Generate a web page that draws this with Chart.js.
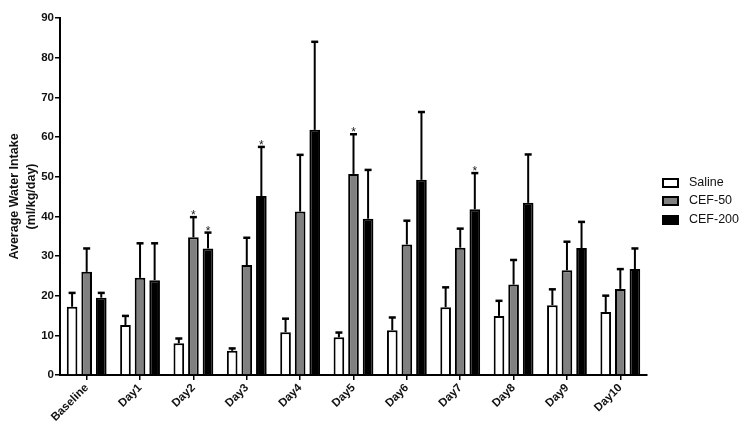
<!DOCTYPE html>
<html>
<head>
<meta charset="utf-8">
<script src="https://cdn.jsdelivr.net/npm/chart.js@4/dist/chart.umd.min.js"></script>
<style>
  html, body { margin: 0; padding: 0; background: #fff; }
  #wrap { width: 751px; height: 434px; position: relative; }
</style>
</head>
<body>
<div id="wrap"><canvas id="chart"></canvas></div>
<script>
(() => {
    'use strict';

    const categories = ['Baseline', 'Day1', 'Day2', 'Day3', 'Day4', 'Day5', 'Day6', 'Day7', 'Day8', 'Day9', 'Day10'];
    const seriesNames = ['Saline', 'CEF-50', 'CEF-200'];

    const salineMean = [17.2, 12.6, 8.0, 6.1, 10.8, 9.5, 11.3, 17.1, 14.9, 17.6, 15.9];
    const salineErr = [3.5, 2.3, 1.2, 0.6, 3.4, 1.2, 3.2, 5.0, 3.8, 4.0, 4.1];
    const cef50Mean = [26.0, 24.5, 34.7, 27.7, 41.2, 50.7, 32.9, 32.1, 22.8, 26.4, 21.7];
    const cef50Err = [5.9, 8.7, 5.1, 6.9, 14.3, 10.0, 6.0, 4.8, 6.2, 7.2, 5.0];
    const cef200Mean = [19.5, 23.9, 31.9, 45.1, 61.8, 39.4, 49.2, 41.8, 43.4, 32.0, 26.7];
    const cef200Err = [1.2, 9.3, 4.0, 12.4, 22.2, 12.3, 17.1, 9.1, 12.2, 6.6, 5.2];

    // significance marks (*) per series, per category
    const salineStar = [0, 0, 0, 0, 0, 0, 0, 0, 0, 0, 0];
    const cef50Star = [0, 0, 1, 0, 0, 1, 0, 0, 0, 0, 0];
    const cef200Star = [0, 0, 1, 1, 0, 0, 0, 1, 0, 0, 0];

    const fills = ['#ffffff', '#808080', '#000000'];
    const means = [salineMean, cef50Mean, cef200Mean];
    const errs = [salineErr, cef50Err, cef200Err];
    const stars = [salineStar, cef50Star, cef200Star];
    const font = '"Liberation Sans", Arial, sans-serif';

    const errorBars = {
        id: 'errorBars',
        afterDatasetsDraw(chart) {
            const { ctx } = chart;
            const y = chart.scales.y;
            ctx.save();
            ctx.strokeStyle = '#000';
            ctx.fillStyle = '#222';
            chart.data.datasets.forEach((ds, i) => {
                chart.getDatasetMeta(i).data.forEach((bar, j) => {
                    const top = y.getPixelForValue(ds.data[j] + errs[i][j]);
                    const base = y.getPixelForValue(ds.data[j]);
                    ctx.lineWidth = 2;
                    ctx.beginPath();
                    ctx.moveTo(bar.x, base);
                    ctx.lineTo(bar.x, top);
                    ctx.stroke();
                    ctx.lineWidth = 2.5;
                    ctx.beginPath();
                    ctx.moveTo(bar.x - 3.5, top);
                    ctx.lineTo(bar.x + 3.5, top);
                    ctx.stroke();
                    if (stars[i][j]) {
                        ctx.font = `12px ${font}`;
                        ctx.textAlign = 'center';
                        ctx.textBaseline = 'alphabetic';
                        ctx.fillText('*', bar.x, top + 2);
                    }
                });
            });
            ctx.restore();
        },
    };

    const sideLegend = {
        id: 'sideLegend',
        afterDraw(chart) {
            const { ctx } = chart;
            const x0 = chart.chartArea.right + 16;
            const rows = [183, 201, 220];
            ctx.save();
            chart.data.datasets.forEach((ds, i) => {
                const cy = rows[i];
                ctx.fillStyle = ds.backgroundColor;
                ctx.fillRect(x0, cy - 4, 15, 8);
                ctx.lineWidth = 2;
                ctx.strokeStyle = '#000';
                ctx.strokeRect(x0, cy - 4, 15, 8);
                ctx.fillStyle = '#111';
                ctx.font = `12.5px ${font}`;
                ctx.textAlign = 'left';
                ctx.textBaseline = 'middle';
                ctx.fillText(ds.label, x0 + 26, cy);
            });
            ctx.restore();
        },
    };

    new Chart(document.getElementById('chart'), {
        type: 'bar',
        data: {
            labels: categories,
            datasets: seriesNames.map((name, i) => ({
                label: name,
                data: means[i],
                backgroundColor: fills[i],
                borderColor: '#000',
                borderWidth: 2,
                borderSkipped: 'bottom',
                categoryPercentage: 0.82,
                barPercentage: 0.73,
            })),
        },
        options: {
            responsive: true,
            maintainAspectRatio: false,
            animation: false,
            layout: { padding: { top: 18, right: 104, left: 0, bottom: 0 } },
            plugins: {
                legend: { display: false },
                tooltip: { enabled: false },
            },
            scales: {
                x: {
                    offset: true,
                    afterFit: (scale) => { scale.height = 59; },
                    grid: {
                        offset: false,
                        drawOnChartArea: false,
                        drawTicks: true,
                        tickLength: 5,
                        color: '#000',
                        lineWidth: 1.5,
                    },
                    border: { display: true, color: '#000', width: 2 },
                    ticks: {
                        color: '#111',
                        font: { family: font, size: 11.5, weight: 'bold' },
                        minRotation: 45,
                        maxRotation: 45,
                        padding: 1,
                        autoSkip: false,
                    },
                },
                y: {
                    min: 0,
                    max: 90,
                    afterFit: (scale) => { scale.width = 60; },
                    grid: {
                        drawOnChartArea: false,
                        drawTicks: true,
                        tickLength: 5,
                        color: '#000',
                        lineWidth: 1.5,
                    },
                    border: { display: true, color: '#000', width: 2 },
                    ticks: {
                        stepSize: 10,
                        color: '#111',
                        font: { family: font, size: 11.5, weight: 'bold' },
                        padding: 1,
                    },
                    title: {
                        display: true,
                        text: ['Average Water Intake', '(ml/kg/day)'],
                        color: '#111',
                        font: { family: font, size: 12.5, weight: 'bold', lineHeight: 1.36 },
                        padding: { top: 6.5, bottom: 0 },
                    },
                },
            },
        },
        plugins: [errorBars, sideLegend],
    });
})();
</script>
</body>
</html>
